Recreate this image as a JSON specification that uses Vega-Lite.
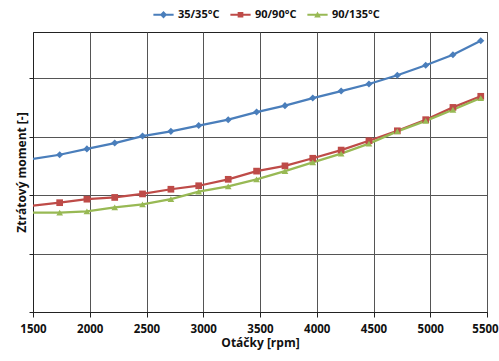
{
  "$schema": "https://vega.github.io/schema/vega-lite/v6.json",
  "width": 454,
  "height": 280,
  "autosize": {"type": "none"},
  "padding": {"left": 33, "top": 32, "right": 12, "bottom": 49},
  "background": "white",
  "config": {
    "font": "Open Sans",
    "view": {"stroke": "#222", "strokeWidth": 1},
    "axis": {"labelFont": "Open Sans", "titleFont": "Open Sans", "labelFontWeight": "bold", "titleFontWeight": "bold", "labelFontSize": 11.5, "titleFontSize": 12, "labelColor": "#111", "titleColor": "#111", "gridColor": "#555", "gridOpacity": 1, "gridWidth": 1, "domainColor": "#222", "tickColor": "#222"}
  },
  "data": {"values": [
    {"rpm": 1500, "series": "35/35°C", "moment": 2.62},
    {"rpm": 1735, "series": "35/35°C", "moment": 2.69},
    {"rpm": 1975, "series": "35/35°C", "moment": 2.79},
    {"rpm": 2220, "series": "35/35°C", "moment": 2.89},
    {"rpm": 2465, "series": "35/35°C", "moment": 3.01},
    {"rpm": 2715, "series": "35/35°C", "moment": 3.09},
    {"rpm": 2960, "series": "35/35°C", "moment": 3.19},
    {"rpm": 3220, "series": "35/35°C", "moment": 3.29},
    {"rpm": 3470, "series": "35/35°C", "moment": 3.42},
    {"rpm": 3720, "series": "35/35°C", "moment": 3.53},
    {"rpm": 3965, "series": "35/35°C", "moment": 3.66},
    {"rpm": 4215, "series": "35/35°C", "moment": 3.78},
    {"rpm": 4460, "series": "35/35°C", "moment": 3.90},
    {"rpm": 4710, "series": "35/35°C", "moment": 4.05},
    {"rpm": 4960, "series": "35/35°C", "moment": 4.22},
    {"rpm": 5200, "series": "35/35°C", "moment": 4.40},
    {"rpm": 5445, "series": "35/35°C", "moment": 4.64},
    {"rpm": 1500, "series": "90/90°C", "moment": 1.82},
    {"rpm": 1735, "series": "90/90°C", "moment": 1.87},
    {"rpm": 1975, "series": "90/90°C", "moment": 1.93},
    {"rpm": 2220, "series": "90/90°C", "moment": 1.96},
    {"rpm": 2465, "series": "90/90°C", "moment": 2.02},
    {"rpm": 2715, "series": "90/90°C", "moment": 2.10},
    {"rpm": 2960, "series": "90/90°C", "moment": 2.16},
    {"rpm": 3220, "series": "90/90°C", "moment": 2.27},
    {"rpm": 3470, "series": "90/90°C", "moment": 2.41},
    {"rpm": 3720, "series": "90/90°C", "moment": 2.50},
    {"rpm": 3965, "series": "90/90°C", "moment": 2.63},
    {"rpm": 4215, "series": "90/90°C", "moment": 2.77},
    {"rpm": 4460, "series": "90/90°C", "moment": 2.93},
    {"rpm": 4710, "series": "90/90°C", "moment": 3.10},
    {"rpm": 4960, "series": "90/90°C", "moment": 3.29},
    {"rpm": 5200, "series": "90/90°C", "moment": 3.50},
    {"rpm": 5445, "series": "90/90°C", "moment": 3.69},
    {"rpm": 1500, "series": "90/135°C", "moment": 1.70},
    {"rpm": 1735, "series": "90/135°C", "moment": 1.70},
    {"rpm": 1975, "series": "90/135°C", "moment": 1.72},
    {"rpm": 2220, "series": "90/135°C", "moment": 1.79},
    {"rpm": 2465, "series": "90/135°C", "moment": 1.84},
    {"rpm": 2715, "series": "90/135°C", "moment": 1.93},
    {"rpm": 2960, "series": "90/135°C", "moment": 2.06},
    {"rpm": 3220, "series": "90/135°C", "moment": 2.15},
    {"rpm": 3470, "series": "90/135°C", "moment": 2.27},
    {"rpm": 3720, "series": "90/135°C", "moment": 2.41},
    {"rpm": 3965, "series": "90/135°C", "moment": 2.56},
    {"rpm": 4215, "series": "90/135°C", "moment": 2.71},
    {"rpm": 4460, "series": "90/135°C", "moment": 2.88},
    {"rpm": 4710, "series": "90/135°C", "moment": 3.09},
    {"rpm": 4960, "series": "90/135°C", "moment": 3.27},
    {"rpm": 5200, "series": "90/135°C", "moment": 3.46},
    {"rpm": 5445, "series": "90/135°C", "moment": 3.66}
  ]},
  "encoding": {
    "x": {"field": "rpm", "type": "quantitative", "title": "Otáčky [rpm]",
      "scale": {"domain": [1500, 5500], "nice": false, "zero": false},
      "axis": {"values": [1500, 2000, 2500, 3000, 3500, 4000, 4500, 5000, 5500], "format": "d", "tickSize": 5, "labelPadding": 6, "titlePadding": 3, "labelFlush": false, "labelOverlap": false,
        "labelOffset": {"condition": {"test": "datum.value == 5500", "value": -2}, "value": 0}}},
    "y": {"field": "moment", "type": "quantitative", "title": "Ztrátový moment [-]",
      "scale": {"domain": [0, 4.79], "nice": false},
      "axis": {"values": [0, 1, 2, 3, 4], "labels": false, "tickSize": 4, "titlePadding": 0}},
    "color": {"field": "series", "type": "nominal", "sort": ["35/35°C", "90/90°C", "90/135°C"],
      "scale": {"domain": ["35/35°C", "90/90°C", "90/135°C"], "range": ["#4A7EBB", "#BE4B48", "#98B954"]},
      "legend": {"orient": "none", "legendX": 125, "legendY": -23, "direction": "horizontal", "title": null,
        "labelFont": "Open Sans", "labelFontWeight": "bold", "labelFontSize": 11, "labelColor": "#111",
        "columnPadding": 10, "symbolSize": 40, "labelOffset": 9, "symbolOpacity": 1, "symbolStrokeWidth": 0}}
  },
  "layer": [
    {"mark": {"type": "line", "strokeWidth": 2.25, "clip": true}},
    {"transform": [{"filter": "datum.series == '35/35°C' && datum.rpm > 1500"}],
     "mark": {"type": "point", "shape": "diamond", "filled": true, "opacity": 1, "size": 50}},
    {"transform": [{"filter": "datum.series == '90/90°C' && datum.rpm > 1500"}],
     "mark": {"type": "point", "shape": "square", "filled": true, "opacity": 1, "size": 45}},
    {"transform": [{"filter": "datum.series == '90/135°C' && datum.rpm > 1500"}],
     "mark": {"type": "point", "shape": "triangle-up", "filled": true, "opacity": 1, "size": 45}},
    {"mark": {"type": "point", "filled": true, "opacity": 0, "size": 40},
     "encoding": {
       "shape": {"field": "series", "type": "nominal",
         "scale": {"domain": ["35/35°C", "90/90°C", "90/135°C"], "range": [
           "M-3.2,-0.33H3.2V0.33H-3.2ZM0,-1.15L1.15,0L0,1.15L-1.15,0Z",
           "M-3.2,-0.33H3.2V0.33H-3.2ZM-0.9,-0.9H0.9V0.9H-0.9Z",
           "M-3.2,-0.33H3.2V0.33H-3.2ZM0,-1.05L1.05,0.85H-1.05Z"]},
         "legend": {"orient": "none", "legendX": 125, "legendY": -23, "direction": "horizontal", "title": null,
           "labelFont": "Open Sans", "labelFontWeight": "bold", "labelFontSize": 11, "labelColor": "#111",
           "columnPadding": 10, "symbolSize": 40, "labelOffset": 9, "symbolOpacity": 1, "symbolStrokeWidth": 0}}
     }}
  ]
}
